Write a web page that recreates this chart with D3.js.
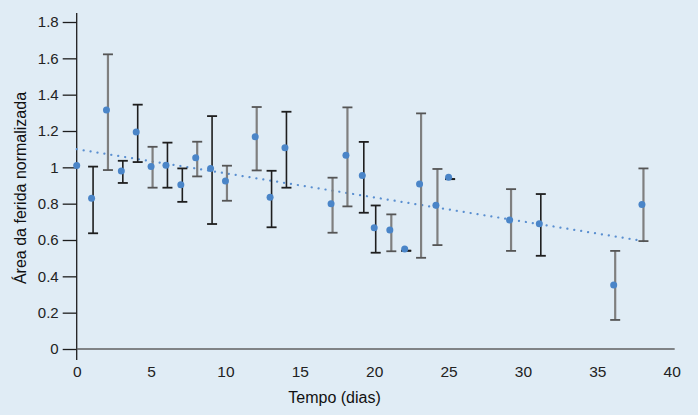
<!DOCTYPE html>
<html>
<head>
<meta charset="utf-8">
<script src="https://cdn.jsdelivr.net/npm/d3@7"></script>
<style>
  body { margin: 0; background: #e0ecf5; }
  svg { display: block; font-family: "Liberation Sans", Arial, sans-serif; }
</style>
</head>
<body>
<div id="chart"></div>
<script>
// wound area over time (normalised), mean with error bars
var days    = [0, 1, 2, 3, 4, 5, 6, 7, 8, 9, 10, 12, 13, 14, 17.1, 18.1, 19.2, 20, 21.05, 22.05, 23.05, 24.15, 25, 29.1, 31.1, 36.1, 38];
var area    = [1.01, 0.83, 1.315, 0.98, 1.195, 1.005, 1.012, 0.904, 1.053, 0.994, 0.925, 1.168, 0.835, 1.108, 0.80, 1.066, 0.955, 0.667, 0.655, 0.55, 0.908, 0.791, 0.945, 0.71, 0.69, 0.352, 0.796];
var errLow  = [null, 0.637, 0.985, 0.914, 1.029, 0.888, 0.888, 0.81, 0.95, 0.688, 0.816, 0.983, 0.67, 0.888, 0.64, 0.785, 0.75, 0.53, 0.538, 0.541, 0.502, 0.572, 0.935, 0.54, 0.513, 0.16, 0.594];
var errHigh = [null, 1.004, 1.622, 1.036, 1.345, 1.113, 1.136, 0.994, 1.141, 1.282, 1.009, 1.332, 0.981, 1.306, 0.943, 1.33, 1.14, 0.79, 0.741, 0.541, 1.297, 0.991, 0.935, 0.88, 0.853, 0.54, 0.994];

// dotted trend line end points
var trendDays = [0, 38.5];
var trendArea = [1.10, 0.589];

var yTicks = [0, 0.2, 0.4, 0.6, 0.8, 1, 1.2, 1.4, 1.6, 1.8];
var xTicks = [0, 5, 10, 15, 20, 25, 30, 35, 40];

var width = 698, height = 415;

var svg = d3.select("#chart").append("svg")
  .attr("width", width)
  .attr("height", height);

svg.append("rect").attr("width", width).attr("height", height).attr("fill", "#e0ecf5");

var x = d3.scaleLinear().domain([0, 40]).range([76.7, 671.7]);
var y = d3.scaleLinear().domain([0, 1.8]).range([349, 22]);

// y axis: line runs past the x axis a little
svg.append("line")
  .attr("x1", x(0)).attr("x2", x(0))
  .attr("y1", y(1.85)).attr("y2", y(0) + 11)
  .attr("stroke", "#1e1e1e").attr("stroke-width", 1.3);

var yAxis = svg.append("g")
  .attr("transform", "translate(" + x(0) + ",0)")
  .call(d3.axisLeft(y).tickValues(yTicks).tickSize(14).tickPadding(4).tickFormat(d3.format("~g")));
yAxis.select(".domain").remove();
yAxis.selectAll(".tick line").attr("stroke", "#1e1e1e").attr("stroke-width", 1.3);
yAxis.selectAll(".tick text").attr("font-size", 15).attr("fill", "#222").attr("font-family", null);

// x axis: plain grey line, labels without ticks
svg.append("line")
  .attr("x1", x(0)).attr("x2", x(40.2))
  .attr("y1", y(0)).attr("y2", y(0))
  .attr("stroke", "#606060").attr("stroke-width", 1.6);

var xAxis = svg.append("g")
  .attr("transform", "translate(0," + y(0) + ")")
  .call(d3.axisBottom(x).tickValues(xTicks).tickSize(0).tickPadding(17));
xAxis.select(".domain").remove();
xAxis.selectAll(".tick text").attr("font-size", 15.5).attr("fill", "#222").attr("font-family", null);

svg.append("text")
  .attr("x", 334.5).attr("y", 403)
  .attr("text-anchor", "middle")
  .attr("font-size", 16).attr("fill", "#111")
  .text("Tempo (dias)");

svg.append("text")
  .attr("transform", "translate(26,188) rotate(-90)")
  .attr("text-anchor", "middle")
  .attr("font-size", 16).attr("fill", "#111")
  .text("Área da ferida normalizada");

// trend line
svg.append("path")
  .datum(d3.zip(trendDays, trendArea))
  .attr("d", d3.line().x(function(d) { return x(d[0]); }).y(function(d) { return y(d[1]); }))
  .attr("fill", "none")
  .attr("stroke", "#5a8fd0")
  .attr("stroke-width", 2.2)
  .attr("stroke-linecap", "round")
  .attr("stroke-dasharray", "0.1,6.9");

// some bars in the source are drawn grey, the rest near black
var greyBars = new Set([2, 5, 8, 10, 12, 17.1, 18.1, 21.05, 23.05, 24.15, 29.1, 36.1, 38]);
var rows = days.map(function(d, i) {
  return { day: d, v: area[i], lo: errLow[i], hi: errHigh[i] };
});

var bars = svg.append("g").selectAll("g")
  .data(rows.filter(function(d) { return d.lo != null; }))
  .enter().append("g")
  .attr("transform", function(d) { return "translate(" + (x(d.day) + 1.5) + ",0)"; });

bars.append("line")
  .attr("y1", function(d) { return y(d.lo); })
  .attr("y2", function(d) { return y(d.hi); })
  .attr("stroke", function(d) { return greyBars.has(d.day) ? "#7f7f7f" : "#1e1e1e"; })
  .attr("stroke-width", function(d) { return greyBars.has(d.day) ? 2.2 : 1.6; });

bars.selectAll(".cap")
  .data(function(d) { return [d.lo, d.hi].map(function(v) { return { v: v, grey: greyBars.has(d.day) }; }); })
  .enter().append("line")
  .attr("class", "cap")
  .attr("x1", -5).attr("x2", 5)
  .attr("y1", function(c) { return y(c.v); })
  .attr("y2", function(c) { return y(c.v); })
  .attr("stroke", function(c) { return c.grey ? "#555" : "#1e1e1e"; })
  .attr("stroke-width", 1.8);

// points
svg.append("g").selectAll("circle")
  .data(rows)
  .enter().append("circle")
  .attr("cx", function(d) { return x(d.day); })
  .attr("cy", function(d) { return y(d.v); })
  .attr("r", 3.5)
  .attr("fill", "#4a85c8");
</script>
</body>
</html>
